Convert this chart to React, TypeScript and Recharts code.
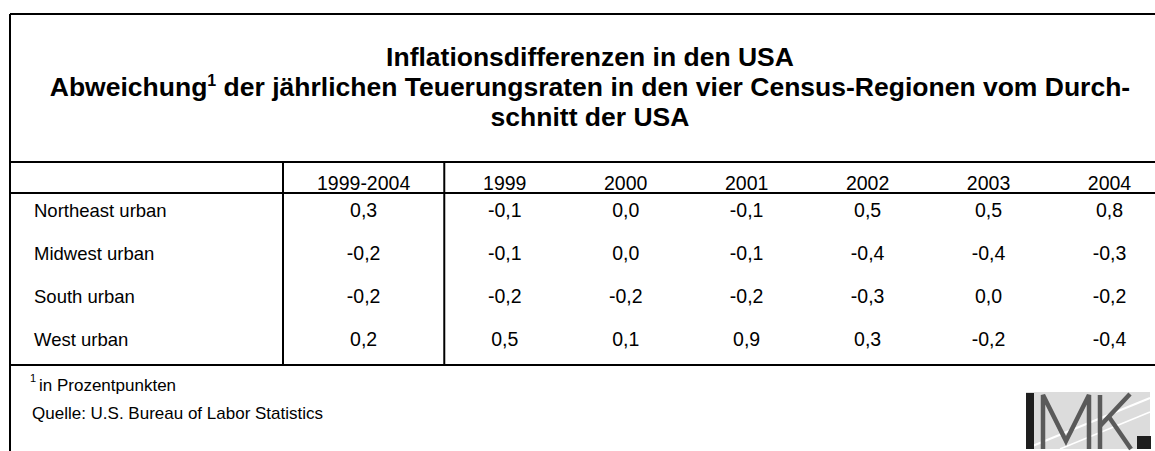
import React from 'react';
import { ScatterChart, Scatter, XAxis, YAxis, Customized } from 'recharts';

// ---------- data ----------
const columns = ['1999-2004', '1999', '2000', '2001', '2002', '2003', '2004'];
const regions = ['Northeast urban', 'Midwest urban', 'South urban', 'West urban'];
const northeastUrban = [0.3, -0.1, 0.0, -0.1, 0.5, 0.5, 0.8];
const midwestUrban = [-0.2, -0.1, 0.0, -0.1, -0.4, -0.4, -0.3];
const southUrban = [-0.2, -0.2, -0.2, -0.2, -0.3, 0.0, -0.2];
const westUrban = [0.2, 0.5, 0.1, 0.9, 0.3, -0.2, -0.4];
const seriesValues = [northeastUrban, midwestUrban, southUrban, westUrban];

const titleLine1 = 'Inflationsdifferenzen in den USA';
const titleLine2a = 'Abweichung';
const titleLine2b = ' der jährlichen Teuerungsraten in den vier Census-Regionen vom Durch-';
const titleLine3 = 'schnitt der USA';
const footnote = 'in Prozentpunkten';
const source = 'Quelle: U.S. Bureau of Labor Statistics';

// ---------- layout ----------
const CHART_W = 1172;
const CHART_H = 451;
const FRAME_X = 10;
const FRAME_Y = 14;
const TITLE_RULE_Y = 162;
const HEADER_H = 31;
const TABLE_BOTTOM = 365;
const DIVIDER_X = 283;
const TABLE_RIGHT = 1170;
const COL_SPANS = [4 / 3, 1, 1, 1, 1, 1, 1];
const FONT = '"Liberation Sans", Arial, Helvetica, sans-serif';
const NUM_SIZE = 19.5;
const LABEL_SIZE = 18.5;
const TITLE_SIZE = 26.5;
const FOOT_SIZE = 17;
const LINE_W = 2;

const colCenters: number[] = [];
{
  let acc = 0;
  COL_SPANS.forEach((s) => {
    colCenters.push(acc + s / 2);
    acc += s;
  });
}
const totalSpan = COL_SPANS.reduce((a, b) => a + b, 0);
const colUnit = (TABLE_RIGHT - DIVIDER_X) / totalSpan;
const SECOND_DIVIDER_X = DIVIDER_X + COL_SPANS[0] * colUnit;

const fmt = (v: number) => v.toFixed(1).replace('.', ',');

const HeaderTick = (props: any) => {
  const { x, payload } = props;
  const idx = colCenters.findIndex((c) => Math.abs(c - payload.value) < 1e-6);
  return (
    <text x={x} y={TITLE_RULE_Y + HEADER_H - 3} textAnchor="middle" fontFamily={FONT} fontSize={NUM_SIZE} fill="#000">
      {columns[idx]}
    </text>
  );
};

const RowTick = (props: any) => {
  const { y, payload } = props;
  return (
    <text x={34} y={y + 2.5} textAnchor="start" fontFamily={FONT} fontSize={LABEL_SIZE} fill="#000">
      {regions[payload.value]}
    </text>
  );
};

const ValueShape = (props: any) => {
  const { cx, cy, payload } = props;
  return (
    <text x={cx} y={cy + 2.5} textAnchor="middle" fontFamily={FONT} fontSize={NUM_SIZE} fill="#000">
      {fmt(payload.v)}
    </text>
  );
};

const Decor = () => {
  const cx = (FRAME_X + TABLE_RIGHT) / 2;
  return (
    <g>
      {/* frame and rules */}
      <line x1={FRAME_X} y1={FRAME_Y} x2={CHART_W} y2={FRAME_Y} stroke="#000" strokeWidth={LINE_W} />
      <line x1={FRAME_X} y1={FRAME_Y} x2={FRAME_X} y2={CHART_H} stroke="#000" strokeWidth={LINE_W} />
      <line x1={FRAME_X} y1={TITLE_RULE_Y} x2={CHART_W} y2={TITLE_RULE_Y} stroke="#000" strokeWidth={LINE_W} />
      <line x1={FRAME_X} y1={TITLE_RULE_Y + HEADER_H} x2={CHART_W} y2={TITLE_RULE_Y + HEADER_H} stroke="#000" strokeWidth={LINE_W} />
      <line x1={FRAME_X} y1={TABLE_BOTTOM} x2={CHART_W} y2={TABLE_BOTTOM} stroke="#000" strokeWidth={LINE_W} />
      <line x1={DIVIDER_X} y1={TITLE_RULE_Y} x2={DIVIDER_X} y2={TABLE_BOTTOM} stroke="#000" strokeWidth={LINE_W} />
      <line x1={SECOND_DIVIDER_X} y1={TITLE_RULE_Y} x2={SECOND_DIVIDER_X} y2={TABLE_BOTTOM} stroke="#000" strokeWidth={LINE_W} />

      {/* title */}
      <text x={cx} y={66} textAnchor="middle" fontFamily={FONT} fontWeight="bold" fontSize={TITLE_SIZE} fill="#000">
        {titleLine1}
      </text>
      <text x={cx} y={96} textAnchor="middle" fontFamily={FONT} fontWeight="bold" fontSize={TITLE_SIZE} fill="#000">
        {titleLine2a}
        <tspan fontSize={16} dy={-10}>1</tspan>
        <tspan dy={10}>{titleLine2b}</tspan>
      </text>
      <text x={cx} y={126} textAnchor="middle" fontFamily={FONT} fontWeight="bold" fontSize={TITLE_SIZE} fill="#000">
        {titleLine3}
      </text>

      {/* footnotes */}
      <text x={30} y={382} fontFamily={FONT} fontSize={11} fill="#000">1</text>
      <text x={39} y={391} fontFamily={FONT} fontSize={FOOT_SIZE} fill="#000">{footnote}</text>
      <text x={32} y={419} fontFamily={FONT} fontSize={FOOT_SIZE} fill="#000">{source}</text>

      {/* IMK logo */}
      <g>
        <rect x={1026} y={392} width={124} height={57} fill="#dcdcdc" />
        <line x1={1030} y1={447} x2={1150} y2={398} stroke="#ffffff" strokeWidth={2} />
        <line x1={1060} y1={449} x2={1150} y2={412} stroke="#ffffff" strokeWidth={1.5} />
        <rect x={1026} y={393} width={8} height={56} fill="#1e1e1e" />
        <polyline points="1043,449 1043,395 1066,441 1089,395 1089,449" fill="none" stroke="#5a5a5a" strokeWidth={4.5} strokeLinejoin="miter" />
        <line x1={1100} y1={395} x2={1100} y2={449} stroke="#5a5a5a" strokeWidth={4.5} />
        <line x1={1100} y1={426} x2={1130} y2={394} stroke="#5a5a5a" strokeWidth={4.5} />
        <line x1={1109} y1={417} x2={1131} y2={449} stroke="#5a5a5a" strokeWidth={4.5} />
        <rect x={1137} y={436} width={14} height={13} fill="#1e1e1e" />
      </g>
    </g>
  );
};

export default function App() {
  return (
    <div style={{ position: 'absolute', left: 0, top: 0, width: 1155, height: 451, overflow: 'hidden', background: '#fff' }}>
      <ScatterChart
        width={CHART_W}
        height={CHART_H}
        margin={{ top: TITLE_RULE_Y, right: CHART_W - TABLE_RIGHT, bottom: CHART_H - TABLE_BOTTOM, left: FRAME_X }}
      >
        <XAxis
          type="number"
          dataKey="x"
          domain={[0, totalSpan]}
          orientation="top"
          height={HEADER_H}
          ticks={colCenters}
          interval={0}
          tick={<HeaderTick />}
          axisLine={false}
          tickLine={false}
          allowDataOverflow
        />
        <YAxis
          type="number"
          dataKey="y"
          domain={[-0.5, 3.5]}
          reversed
          ticks={[0, 1, 2, 3]}
          interval={0}
          width={DIVIDER_X - FRAME_X}
          tick={<RowTick />}
          axisLine={false}
          tickLine={false}
          allowDataOverflow
        />
        {seriesValues.map((vals, r) => (
          <Scatter
            key={regions[r]}
            name={regions[r]}
            data={vals.map((v, i) => ({ x: colCenters[i], y: r, v }))}
            shape={<ValueShape />}
            isAnimationActive={false}
          />
        ))}
        <Customized component={<Decor />} />
      </ScatterChart>
    </div>
  );
}
